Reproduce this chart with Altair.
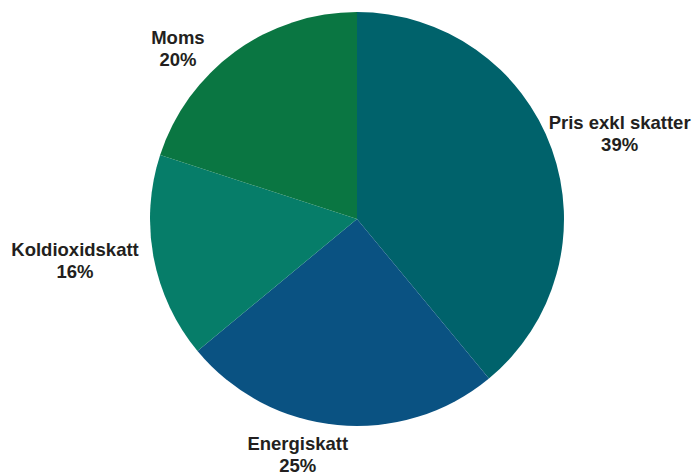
import altair as alt
import pandas as pd

categories = ["Pris exkl skatter", "Energiskatt", "Koldioxidskatt", "Moms"]
values = [39, 25, 16, 20]
colors = ["#00626B", "#0A5282", "#067D69", "#0A7642"]

df = pd.DataFrame({"category": categories, "value": values, "idx": list(range(len(categories)))})

# label placement styles (radius from centre, pixel nudges)
label_style = {
    "Pris exkl skatter": (277, 2, -2),
    "Energiskatt": (236, -37, -10),
    "Koldioxidskatt": (285, -2, -22),
    "Moms": (240, -38, 13),
}

base = alt.Chart(df).encode(
    theta=alt.Theta("value:Q", stack=True),
    order=alt.Order("idx:Q"),
)

pie = base.mark_arc(outerRadius=207, stroke=None).encode(
    color=alt.Color("category:N", scale=alt.Scale(domain=categories, range=colors), legend=None),
)

layers = [pie]
for c in categories:
    r, dx, dy = label_style[c]
    t = base.transform_calculate(
        label="datum.category + '\\n' + datum.value + '%'"
    ).mark_text(
        radius=r, dx=dx, dy=dy, font="Liberation Sans", fontWeight="bold", fontSize=18.5,
        color="#231F20", lineBreak="\n", align="center", baseline="middle", lineHeight=22,
    ).encode(
        text=alt.condition(f"datum.category == '{c}'", "label:N", alt.value("")),
    )
    layers.append(t)

chart = alt.layer(*layers).properties(
    width=670, height=422,
    padding={"left": 14, "top": 0, "right": 0, "bottom": 47},
    autosize=alt.AutoSizeParams(type="none"),
    background="white",
).configure_view(stroke=None)

chart.save("out.html", embed_options={"renderer": "svg", "actions": False})
